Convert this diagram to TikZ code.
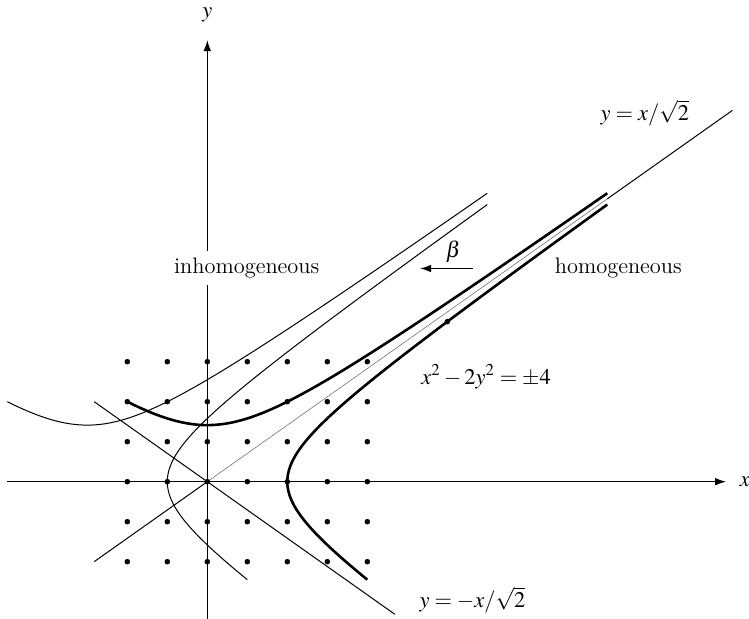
\documentclass[tikz,border=0pt]{standalone}
\usepackage{mathptmx}
\usetikzlibrary{arrows.meta}
\begin{document}
\begin{tikzpicture}[x=20pt,y=20pt,
  lbl/.style={font=\fontsize{11.2}{13.4}\selectfont},
  axis/.style={line width=0.6pt,-{Latex[length=5.5pt,width=3.8pt]}},
  thinline/.style={line width=0.5pt},
  thickcurve/.style={line width=1.3pt},
  faint/.style={line width=0.3pt,black!55},
  dot/.style={fill=black}]
\useasboundingbox (-5.1825,-3.4325) rectangle (13.5425,12.0425);
% axes
\coordinate (xl) at (-5,0);
\coordinate (xr) at (12.97,0);
\coordinate (yb) at (0,-3.4325);
\coordinate (yt) at (0,11.04);
\draw[axis] (xl) -- (xr);
\draw[axis] (yb) -- (yt);
% asymptote lines
\coordinate (p1) at (-2.8284,-2);
\coordinate (o) at (0,0);
\coordinate (p2) at (10,7.0711);
\coordinate (p3) at (13.13,9.284);
\draw[thinline] (p1) -- (o);
\draw[faint] (o) -- (p2);
\draw[thinline] (p2) -- (p3);
\coordinate (q1) at (-2.8284,2);
\coordinate (q2) at (4.69,-3.316);
\draw[thinline] (q1) -- (q2);
% thin (inhomogeneous) curves: translated by (-3,0)
\draw[thinline] plot[domain=-2:10,samples=120,smooth] ({\x-3},{sqrt((4+\x*\x)/2)});
\draw[thinline] plot[domain=-2.4495:6.9282,samples=120,smooth] ({sqrt(4+2*\x*\x)-3},{\x});
% thick (homogeneous) curves
\draw[thickcurve] plot[domain=-2:10,samples=120,smooth] ({\x},{sqrt((4+\x*\x)/2)});
\draw[thickcurve] plot[domain=-2.4495:6.9282,samples=120,smooth] ({sqrt(4+2*\x*\x)},{\x});
% lattice dots
\foreach \i in {-2,...,4}{
  \foreach \j in {-2,...,3}{
    \fill[dot] (\i,\j) circle (1.4pt);
  }
}
\fill[dot] (6,4) circle (1.4pt);
% beta arrow
\coordinate (b1) at (6.635,5.33);
\coordinate (b2) at (5.32,5.33);
\draw[line width=0.6pt,-{Latex[length=5.5pt,width=3.8pt]}] (b1) -- (b2);
% labels
\node[lbl] (ylab) at (0,11.67) {$y$};
\node[lbl,inner sep=0pt] (xlab) at (13.44,0) {$x$};
\node[lbl] (beta) at (6.15,5.75) {$\beta$};
\node[lbl,fill=white] (inh) at (0.985,5.34) {inhomogeneous};
\node[lbl] (hom) at (10.275,5.34) {homogeneous};
\node[lbl] (eq) at (6.97,2.625) {$x^2-2y^2=\pm4$};
\node[lbl] (asy1) at (10.94,9.21) {$y=x/\sqrt{2}$};
\node[lbl] (asy2) at (6.63,-2.96) {$y=-x/\sqrt{2}$};
\end{tikzpicture}
\end{document}
